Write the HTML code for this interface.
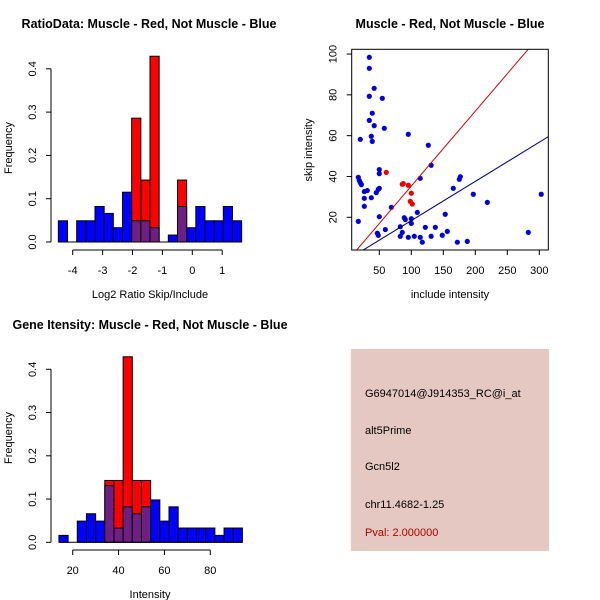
<!DOCTYPE html>
<html><head><meta charset="utf-8"><style>
html,body{margin:0;padding:0;background:#fff}
svg{display:block;font-family:"Liberation Sans",Arial,sans-serif}
</style></head><body>
<svg id="c" width="600" height="600" viewBox="0 0 600 600"></svg>
<script>
// ---- data: ratio histogram ----
const ratioBinStart = -4.48;
const ratioBinWidth = 0.3065;
const ratioBlue = [0.049,0,0.049,0.049,0.082,0.066,0.033,0.115,0.049,0.049,0.033,0,0.016,0.082,0.033,0.082,0.049,0.049,0.082,0.049];
const ratioRed  = [0,0,0,0,0,0,0,0,0.286,0.143,0.429,0,0,0.143,0,0,0,0,0,0];
const ratioXTicks = [-4,-3,-2,-1,0,1];
const freqTicks = [0,0.1,0.2,0.3,0.4];
// ---- data: intensity histogram ----
const intBinStart = 14;
const intBinWidth = 4;
const intBlue = [0.016,0,0.049,0.066,0.049,0.131,0.033,0.082,0.066,0.082,0.098,0.049,0.082,0.033,0.033,0.033,0.033,0.016,0.033,0.033];
const intRed  = [0,0,0,0,0,0.143,0.143,0.429,0.143,0.143,0,0,0,0,0,0,0,0,0,0];
const intXTicks = [20,40,60,80];
// ---- data: scatter ----
const blueX = [34.4,34.4,42,34.4,54.7,39,34.4,42,57.8,37.5,39,20.3,95.3,126.6,50,50,131,114,17.2,18.8,20.3,22,26.6,31.2,37.5,26.6,45.3,48.4,50,26.6,68.8,17.2,50,165.6,175,176.6,196.9,218.8,303,282.8,153,109.4,89,90.6,100,100,59.4,82.8,121.9,137.5,85.9,82.8,95.3,104.7,114,117.2,131,148.4,156.3,171.9,187.5,46.9,48.4];
const blueY = [98.4,93,83.2,79.3,78.3,71,67.5,64.9,63.6,59.7,57.2,58.2,60.7,55.3,43.4,41.4,45.5,39.1,39.6,38,37,36,32.6,33.1,29.6,29.3,32.1,33.7,34.2,25.4,24.9,18,20.3,34.2,38.6,39.9,31.3,27.3,31.3,12.6,21.5,22.4,19.8,18.9,19.3,17,14,15.4,15.1,15.1,12.6,10.7,10.2,10.7,10.2,7.8,10.7,11.2,13.1,7.8,8.2,12.2,11.2];
const redX = [60.9,85.9,87.5,95.3,100,98.4,101.6];
const redY = [42,36.2,36.5,35.7,31.8,27.8,26.5];
const redLine = [-1.4,0.367];   // intercept, slope
const blueLine = [-0.8,0.192];
const scXTicks = [50,100,150,200,250,300];
const scYTicks = [20,40,60,80,100];

const svg = document.getElementById('c');
const NS = 'http://www.w3.org/2000/svg';
function mk(tag, attrs, parent){
  const e = document.createElementNS(NS, tag);
  for (const k in attrs) e.setAttribute(k, attrs[k]);
  (parent||svg).appendChild(e);
  return e;
}
function txt(s, attrs, parent){ const t = mk('text', attrs, parent); t.textContent = s; return t; }

function histogram(opts){
  const g = mk('g', {});
  
  
  const X = v => opts.x0px + (v - opts.x0) * opts.xs;
  const Y = v => opts.y0px - v * opts.ys;
  const n = opts.blue.length;
  for (let i=0;i<n;i++){
    const a = X(opts.start + i*opts.width), b = X(opts.start + (i+1)*opts.width);
    const r = opts.red[i], bl = opts.blue[i];
    if (r > 0){
      const e = mk('rect', {x:a, y:Y(r), width:b-a, height:Y(0)-Y(r), fill:'#ff0000', stroke:'#000', 'stroke-width':1}, g);
      
      
    }
    if (bl > 0){
      const col = r > 0 ? '#6f1e84' : '#0000ff';
      const e = mk('rect', {x:a, y:Y(bl), width:b-a, height:Y(0)-Y(bl), fill:col, stroke:'#000', 'stroke-width':1}, g);
      
      
    }
  }
  mk('line', {x1:X(opts.start), x2:X(opts.start+n*opts.width), y1:Y(0), y2:Y(0), stroke:'#000'}, g);
  const ya = mk('g', {}, g);
  
  
  mk('line', {x1:opts.yaxX, x2:opts.yaxX, y1:Y(freqTicks[0]), y2:Y(freqTicks[freqTicks.length-1]), stroke:'#000'}, ya);
  freqTicks.forEach(t=>{
    mk('line', {x1:opts.yaxX-5, x2:opts.yaxX, y1:Y(t), y2:Y(t), stroke:'#000'}, ya);
    txt(t.toFixed(1), {x:0, y:0, transform:`translate(${opts.yaxX-15},${Y(t)}) rotate(-90)`, 'text-anchor':'middle', 'font-size':11}, ya);
  });
  const xa = mk('g', {}, g);
  
  
  const tk = opts.ticks;
  mk('line', {x1:X(tk[0]), x2:X(tk[tk.length-1]), y1:opts.xaxY, y2:opts.xaxY, stroke:'#000'}, xa);
  tk.forEach(t=>{
    mk('line', {x1:X(t), x2:X(t), y1:opts.xaxY, y2:opts.xaxY+5, stroke:'#000'}, xa);
    txt(String(t), {x:X(t), y:opts.xaxY+24, 'text-anchor':'middle', 'font-size':11}, xa);
  });
  const xt = txt(opts.xlabel, {x:opts.xlabX, y:opts.xlabY, 'text-anchor':'middle', 'font-size':11}, g);
  
  
  const yt = txt('Frequency', {x:0, y:0, transform:`translate(12,${opts.ylabY}) rotate(-90)`, 'text-anchor':'middle', 'font-size':11}, g);
  
  
  const tt = txt(opts.title, {x:opts.titleX, y:opts.titleY, 'text-anchor':'middle', 'font-size':12.5, 'font-weight':'bold'}, g);
  
  
}

histogram({name:'ratio-histogram', blue:ratioBlue, red:ratioRed, start:ratioBinStart, width:ratioBinWidth,
  x0:-4, x0px:72.7, xs:29.9, y0px:242, ys:433, yaxX:51, xaxY:250, ticks:ratioXTicks,
  xlabel:'Log2 Ratio Skip/Include', xlabX:150, xlabY:298, ylabY:148,
  title:'RatioData: Muscle - Red, Not Muscle - Blue', titleX:149, titleY:28});

histogram({name:'intensity-histogram', blue:intBlue, red:intRed, start:intBinStart, width:intBinWidth,
  x0:20, x0px:72.7, xs:2.293, y0px:542.3, ys:432.5, yaxX:51, xaxY:550, ticks:intXTicks,
  xlabel:'Intensity', xlabX:150, xlabY:598, ylabY:438,
  title:'Gene Itensity: Muscle - Red, Not Muscle - Blue', titleX:150, titleY:329});

(function(){
  const g = mk('g', {});
  
  
  const L=351.7, R=548.3, T=49.3, B=250;
  const X = v => 379.3 + (v-50)*0.64;
  const Y = v => 217.3 - (v-20)*2.041;
  const xmin = (L-379.3)/0.64+50, xmax = (R-379.3)/0.64+50;
  const cp = mk('clipPath', {id:'scClip'}, g);
  mk('rect', {x:L, y:T, width:R-L, height:B-T}, cp);
  const pts = mk('g', {'clip-path':'url(#scClip)'}, g);
  function line(c, col, name){
    const e = mk('line', {x1:X(xmin), y1:Y(c[0]+c[1]*xmin), x2:X(xmax), y2:Y(c[0]+c[1]*xmax), stroke:col, 'stroke-width':1}, pts);
    
    
  }
  blueX.forEach((x,i)=>{
    const e = mk('circle', {cx:X(x), cy:Y(blueY[i]), r:2.6, fill:'#0000dd'}, pts);
    
    
  });
  redX.forEach((x,i)=>{
    const e = mk('circle', {cx:X(x), cy:Y(redY[i]), r:2.6, fill:'#ee0000'}, pts);
    
    
  });
  line(redLine, '#cc0000', 'red-fit-line');
  line(blueLine, '#00008b', 'blue-fit-line');
  mk('rect', {x:L, y:T, width:R-L, height:B-T, fill:'none', stroke:'#000'}, g);
  const xa = mk('g', {}, g);
  
  
  scXTicks.forEach(t=>{
    mk('line', {x1:X(t), x2:X(t), y1:B, y2:B+5, stroke:'#000'}, xa);
    txt(String(t), {x:X(t), y:B+24, 'text-anchor':'middle', 'font-size':11}, xa);
  });
  const ya = mk('g', {}, g);
  
  
  scYTicks.forEach(t=>{
    mk('line', {x1:L-5, x2:L, y1:Y(t), y2:Y(t), stroke:'#000'}, ya);
    txt(String(t), {x:0, y:0, transform:`translate(${L-15},${Y(t)}) rotate(-90)`, 'text-anchor':'middle', 'font-size':11}, ya);
  });
  const xt = txt('include intensity', {x:450, y:298, 'text-anchor':'middle', 'font-size':11}, g);
  
  
  const yt = txt('skip intensity', {x:0, y:0, transform:'translate(312,150) rotate(-90)', 'text-anchor':'middle', 'font-size':11}, g);
  
  
  const tt = txt('Muscle - Red, Not Muscle - Blue', {x:450, y:28, 'text-anchor':'middle', 'font-size':12.5, 'font-weight':'bold'}, g);
  
  
})();

(function(){
  const g = mk('g', {});
  
  
  mk('rect', {x:351, y:349, width:198, height:202, fill:'#e6c8c2'}, g);
  const lines = [['G6947014@J914353_RC@i_at',397,'#000','probe-id'],['alt5Prime',434,'#000','event-type'],['Gcn5l2',470,'#000','gene-name'],['chr11.4682-1.25',508,'#000','location'],['Pval: 2.000000',536,'#b00000','p-value']];
  lines.forEach(l=>{
    const t = txt(l[0], {x:365, y:l[1], 'font-size':11, fill:l[2]}, g);
    
    
  });
})();
</script>
</body></html>
